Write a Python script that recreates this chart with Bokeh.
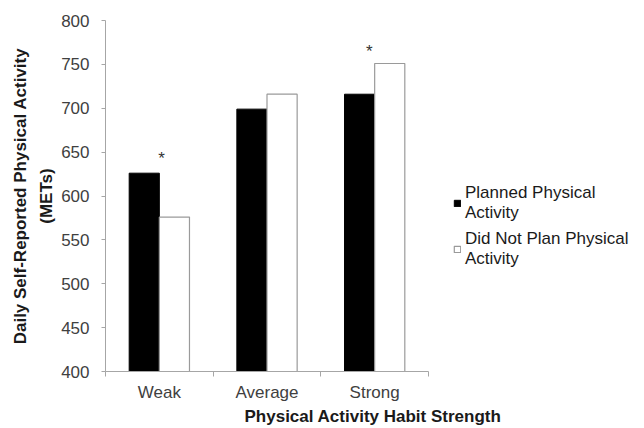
from bokeh.plotting import figure
from bokeh.models import (ColumnDataSource, FixedTicker, Range1d, Legend, LegendItem)
from bokeh.core.properties import value
from bokeh.embed import file_html
from bokeh.resources import INLINE

categories = ["Weak", "Average", "Strong"]
planned = [626, 699, 716]
not_planned = [576, 716, 751]
star_cats = [0, 2]
star_offsets = [0.02, -0.05]
star_values = [643, 765]
y_ticks = [400, 450, 500, 550, 600, 650, 700, 750, 800]

FONT = "Liberation Sans"
BAR_W = 0.28

n = len(categories)
centers = [i + 0.5 for i in range(n)]
src = ColumnDataSource(dict(
    xp=[c - BAR_W / 2 for c in centers],
    xn=[c + BAR_W / 2 for c in centers],
    planned=planned,
    not_planned=not_planned,
))
star_src = ColumnDataSource(dict(
    x=[star_cats[i] + 0.5 + star_offsets[i] for i in range(len(star_cats))],
    y=star_values,
    t=["*"] * len(star_cats),
))

# frame spans 105..640 px; the category axis occupies 105..428 px
LEFT, RIGHT_PAD, W, H = 105, 4, 644, 428
frame_w = W - LEFT - RIGHT_PAD
axis_px = 323
x_end = n * frame_w / axis_px

p = figure(width=W, height=H, output_backend="svg", toolbar_location=None,
           x_range=Range1d(0, x_end), y_range=Range1d(400, 800),
           min_border_left=LEFT, min_border_right=RIGHT_PAD, min_border_top=20,
           min_border_bottom=56)
p.outline_line_color = None
p.xgrid.visible = False
p.ygrid.visible = False
p.background_fill_color = "white"

r1 = p.vbar(x="xp", top="planned", bottom=400, width=BAR_W, source=src,
            fill_color="black", line_color="black", line_width=1)
r2 = p.vbar(x="xn", top="not_planned", bottom=400, width=BAR_W, source=src,
            fill_color="white", line_color="#9a9a9a", line_width=1.2)

p.text(x="x", y="y", text="t", source=star_src, text_font=value(FONT),
       text_font_size="17px", text_align="center", text_baseline="middle",
       text_color="#333333")

# axes
ax = p.xaxis[0]
ax.bounds = (0, n)
ax.ticker = FixedTicker(ticks=centers, minor_ticks=list(range(n + 1)))
ax.major_label_overrides = {c: s for c, s in zip(centers, categories)}
ax.major_tick_out = 0
ax.major_tick_in = 0
ax.minor_tick_out = 5
ax.minor_tick_in = 0
ax.minor_tick_line_color = "#a6a6a6"
ax.axis_line_color = "#a6a6a6"
ax.major_label_text_font = FONT
ax.major_label_text_font_size = "17px"
ax.major_label_text_color = "#404040"
ax.major_label_standoff = 6
ax.axis_label = "Physical Activity Habit Strength"
ax.axis_label_text_font = FONT
ax.axis_label_text_font_size = "17px"
ax.axis_label_text_font_style = "bold"
ax.axis_label_text_color = "#1a1a1a"
ax.axis_label_standoff = 2

ay = p.yaxis[0]
ay.ticker = FixedTicker(ticks=y_ticks)
ay.minor_tick_line_color = None
ay.major_tick_out = 4
ay.major_tick_in = 0
ay.major_tick_line_color = "#a6a6a6"
ay.axis_line_color = "#a6a6a6"
ay.major_label_text_font = FONT
ay.major_label_text_font_size = "17px"
ay.major_label_text_color = "#404040"
ay.major_label_standoff = 12
ay.axis_label = "Daily Self-Reported Physical Activity\n(METs)"
ay.axis_label_text_font = FONT
ay.axis_label_text_font_size = "17px"
ay.axis_label_text_font_style = "bold"
ay.axis_label_text_color = "#1a1a1a"
ay.axis_label_text_line_height = 1.35
ay.axis_label_standoff = 2

legend = Legend(items=[
    LegendItem(label="Planned Physical\nActivity", renderers=[r1]),
    LegendItem(label="Did Not Plan Physical\nActivity", renderers=[r2]),
], location=(348, 102), orientation="vertical")
legend.border_line_color = None
legend.background_fill_alpha = 0
legend.padding = 0
legend.margin = 0
legend.spacing = 6
legend.glyph_width = 8
legend.glyph_height = 8
legend.label_standoff = 4
legend.label_text_font = FONT
legend.label_text_font_size = "17px"
legend.label_text_color = "#1a1a1a"
legend.label_text_line_height = 1.3
p.add_layout(legend, "center")

open("out.html", "w").write(file_html(p, INLINE))
